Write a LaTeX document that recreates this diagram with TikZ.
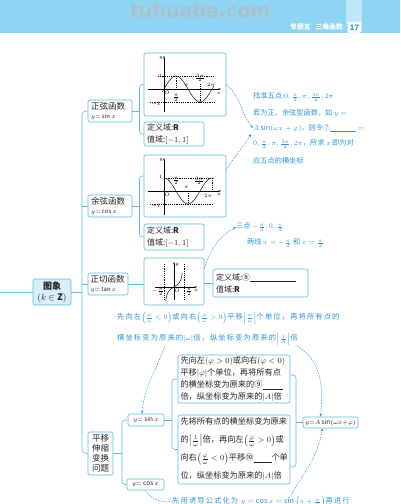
\documentclass[tikz,border=0pt]{standalone}
\usepackage{fontspec}
\setmainfont{Noto Sans CJK SC}
\newfontfamily\wmfont{DejaVu Sans}
\newfontfamily\annfont[LetterSpace=15]{Noto Sans CJK SC}
\usetikzlibrary{arrows.meta}
\definecolor{banner}{RGB}{143,212,243}
\definecolor{colbl}{RGB}{190,232,250}
\definecolor{linec}{RGB}{95,188,218}
\definecolor{rootc}{RGB}{214,239,250}
\definecolor{annc}{RGB}{45,150,215}
\definecolor{txt}{RGB}{35,35,35}
\definecolor{wmc}{RGB}{172,192,204}
\tikzset{
  conn/.style={draw=linec, line width=0.6pt},
  bx/.style={draw=linec, line width=0.6pt, rounded corners=2pt, fill=white, inner sep=0pt, text=txt},
  ann/.style={draw=annc, line width=0.5pt, dash pattern=on 1.5pt off 1.2pt},
  anntip/.style={-{Stealth[length=3.2pt,width=2.4pt]}},
  gl/.style={line width=0.45pt, draw=black},
  gd/.style={line width=0.4pt, draw=black, dash pattern=on 1.2pt off 1pt},
  axtip/.style={-{Stealth[length=2.5pt,width=1.8pt]}},
  lab/.style={inner sep=0pt, text=black, font=\fontsize{5.5}{6}\selectfont},
  atext/.style={anchor=west, inner sep=0pt, text=annc, font=\fontsize{7.2}{8}\selectfont},
  mtext/.style={anchor=west, inner sep=0pt, text=annc, font=\fontsize{7.3}{8}\selectfont\annfont},
}
\begin{document}
\begin{tikzpicture}[x=1pt,y=-1pt]
\clip (0,0) rectangle (400,504);
\fill[white] (0,0) rectangle (400,504);
% banner
\fill[banner] (0,0) rectangle (400,33);
\fill[colbl] (346,0) rectangle (362,24);
\node[text=wmc, font=\fontsize{19}{20}\selectfont\wmfont\bfseries, inner sep=0pt] (wm) at (200,10) {tuhuaba.com};
\node[text=white, font=\fontsize{6.8}{7}\selectfont\bfseries, inner sep=0pt, anchor=east] (chap) at (343,27) {专题五\hspace{5pt}三角函数};
\node[fill=white, draw=colbl, rounded corners=2pt, minimum width=14pt, minimum height=11pt, inner sep=0pt, text=annc, font=\fontsize{7.5}{8}\selectfont\bfseries] (pg) at (354.5,27.5) {17};

% main nodes
\node[bx, fill=rootc, minimum width=38pt, minimum height=26pt, align=center, font=\fontsize{9}{11}\selectfont\bfseries] (root) at (52,292) {图象\\$(k\in\mathbf{Z})$};
\node[bx, minimum width=44pt, minimum height=22pt, text width=38pt, align=left, font=\fontsize{8.5}{10}\selectfont] (sinfn) at (110,111) {正弦函数\\[-1pt]{\fontsize{6}{6}\selectfont$y{=}\sin x$}};
\node[bx, minimum width=44pt, minimum height=22pt, text width=38pt, align=left, font=\fontsize{8.5}{10}\selectfont] (cosfn) at (110,206) {余弦函数\\[-1pt]{\fontsize{6}{6}\selectfont$y{=}\cos x$}};
\node[bx, minimum width=40pt, minimum height=22pt, text width=35pt, align=left, font=\fontsize{8.5}{10}\selectfont] (tanfn) at (108,284) {正切函数\\[-1pt]{\fontsize{6}{6}\selectfont$y{=}\tan x$}};
\node[bx, minimum width=25pt, minimum height=43pt, align=center, font=\fontsize{8.5}{10}\selectfont] (pingyi) at (100.5,453.5) {平移\\伸缩\\变换\\问题};

\node[bx, minimum width=82pt, minimum height=63pt] (sgraph) at (185,84.5) {};
\node[bx, minimum width=60pt, minimum height=24pt, text width=54pt, align=left, font=\fontsize{8}{11.5}\selectfont] (sdom) at (174,134) {定义域:$\mathbf{R}$\\值域:$[-1,1]$};
\node[bx, minimum width=82pt, minimum height=62pt] (cgraph) at (185,186) {};
\node[bx, minimum width=60pt, minimum height=26pt, text width=54pt, align=left, font=\fontsize{8}{11.5}\selectfont] (cdom) at (174,237) {定义域:$\mathbf{R}$\\值域:$[-1,1]$};
\node[bx, minimum width=60pt, minimum height=47pt] (tgraph) at (174,281.5) {};
\node[bx, minimum width=95pt, minimum height=28pt, text width=89pt, align=left, font=\fontsize{8}{12}\selectfont] (tdom) at (260.5,283) {定义域:⑧\underline{\hspace{46pt}}\\值域:$\mathbf{R}$};

\node[bx, minimum width=36pt, minimum height=12pt, font=\fontsize{6.5}{7}\selectfont] (ysin) at (146,420) {$y{=}\sin x$};
\node[bx, minimum width=37pt, minimum height=11pt, font=\fontsize{6.5}{7}\selectfont] (ycos) at (145.5,484.5) {$y{=}\cos x$};
\node[bx, minimum width=55pt, minimum height=11pt, font=\fontsize{6.5}{7}\selectfont] (yA) at (330.5,422.5) {$y{=}A\sin(\omega x{+}\varphi)$};

\node[bx, minimum width=112pt, minimum height=48pt, text width=107pt, align=left, font=\fontsize{8.2}{12}\selectfont] (boxA) at (234,379) {先向左$(\varphi>0)$或向右$(\varphi<0)$\\平移$|\varphi|$个单位，再将所有点\\的横坐标变为原来的⑨\underline{\hspace{20pt}}\\倍，纵坐标变为原来的$|A|$倍};
\node[bx, minimum width=112pt, minimum height=69pt, text width=107pt, align=left, font=\fontsize{8.2}{18}\selectfont] (boxB) at (234,449.5) {先将所有点的横坐标变为原来\\的$\left|\frac{1}{\omega}\right|$倍，再向左$\left(\frac{\varphi}{\omega}>0\right)$或\\向右$\left(\frac{\varphi}{\omega}<0\right)$平移⑩\underline{\hspace{18pt}}个单\\位，纵坐标变为原来的$|A|$倍};

% connectors
\coordinate (tkx) at (82,0);
\coordinate (lft) at (0,292);
\draw[conn, rounded corners=4pt] (sinfn.west) -- (tkx |- sinfn.west) -- (tkx |- pingyi.west) -- (pingyi.west);
\draw[conn] (cosfn.west) -- (tkx |- cosfn.west);
\draw[conn] (tanfn.west) -- (tkx |- tanfn.west);
\draw[conn] (lft) -- (root.west);
\draw[conn] (root.east) -- (tkx |- root.east);

\coordinate (s1x) at (139.5,0);
\draw[conn, rounded corners=3pt] (sgraph.west) -- (s1x |- sgraph.west) -- (s1x |- sdom.west) -- (sdom.west);
\draw[conn] (sinfn.east) -- (s1x |- sinfn.east);
\coordinate (cgw) at ([yshift=10pt]cgraph.west);
\draw[conn, rounded corners=3pt] (cgw) -- (s1x |- cgw) -- (s1x |- cdom.west) -- (cdom.west);
\draw[conn] (cosfn.east) -- (s1x |- cosfn.east);
\draw[conn] (tanfn.east) -- (tgraph.west |- tanfn.east);
\draw[conn] (tgraph.east |- tdom.west) -- (tdom.west);

\coordinate (p1x) at (122,0);
\draw[conn] (pingyi.east) -- (p1x |- pingyi.east);
\draw[conn, rounded corners=3pt] (ysin.west) -- (p1x |- ysin.west) -- (p1x |- ycos.west) -- (ycos.west);
\coordinate (b1x) at (172,0);
\draw[conn] (ysin.east) -- (b1x |- ysin.east);
\draw[conn, rounded corners=3pt] (boxA.west) -- (b1x |- boxA.west) -- (b1x |- boxB.west) -- (boxB.west);
\coordinate (b2x) at (296,0);
\coordinate (bAe) at ([yshift=4pt]boxA.east);
\coordinate (bBe) at ([yshift=-17.5pt]boxB.east);
\draw[conn, rounded corners=3pt] (bAe) -- (b2x |- bAe) -- (b2x |- bBe) -- (bBe);
\draw[conn] (b2x |- yA.west) -- (yA.west);

% sine graph
\draw[gl, axtip] (148,89) -- (221,89);
\draw[gl, axtip] (164,112) -- (164,56);
\draw[gd] (158,76) -- (214,76);
\draw[gd] (150,102) -- (214,102);
\draw[gd] (176,76) -- (176,89);
\draw[gd] (200,84) -- (200,102);
\draw[gl] plot[domain=-2:50, samples=60, smooth] ({164+\x},{89-13*sin(7.5*\x)});
\node[lab] (sy) at (161,58) {$y$};
\node[lab] (s1) at (160.5,76) {$1$};
\node[lab] (sm1) at (156,104) {$-1$};
\node[lab] (sO) at (167,93) {$O$};
\node[lab] (spi2) at (176,98) {$\frac{\pi}{2}$};
\node[lab] (spi) at (186.5,85.5) {$\pi$};
\node[lab] (s3pi) at (200,78) {$\frac{3\pi}{2}$};
\node[lab] (s2pi) at (211,85) {$2\pi$};
\node[lab] (sx) at (219,93) {$x$};

% cosine graph
\draw[gl, axtip] (148,191) -- (221,191);
\draw[gl, axtip] (164,215) -- (164,158);
\draw[gd] (164,178) -- (213,178);
\draw[gd] (150,204) -- (213,204);
\draw[gd] (188,191) -- (188,204);
\draw[gd] (212,178) -- (212,191);
\draw[gl] plot[domain=0:50, samples=60, smooth] ({164+\x},{191-13*cos(7.5*\x)});
\node[lab] (cy) at (161,160) {$y$};
\node[lab] (c1) at (160.5,177) {$1$};
\node[lab] (cm1) at (156,206) {$-1$};
\node[lab] (cO) at (167,194.5) {$O$};
\node[lab] (cpi2) at (176,181) {$\frac{\pi}{2}$};
\node[lab] (cpi) at (186.5,187) {$\pi$};
\node[lab] (c3pi) at (199,181) {$\frac{3\pi}{2}$};
\node[lab] (c2pi) at (208,196) {$2\pi$};
\node[lab] (cx) at (219,194.5) {$x$};

% tangent graph
\draw[gl, axtip] (155,287) -- (197,287);
\draw[gl, axtip] (174,300) -- (174,262);
\draw[gd] (164,264) -- (164,301);
\draw[gd] (184,264) -- (184,301);
\draw[gl] plot[domain=-74:74, samples=40, smooth] ({174+\x/9},{287-4*tan(\x)});
\node[lab] (ty) at (177,265) {$y$};
\node[lab] (tO) at (177,291) {$O$};
\node[lab] (tm) at (158,292) {$-\frac{\pi}{2}$};
\node[lab] (tp) at (189,292) {$\frac{\pi}{2}$};
\node[lab] (tx) at (196,290.5) {$x$};

% annotations
\node[atext] (a1) at (253,97) {找准五点:$0,\frac{\pi}{2},\pi,\frac{3\pi}{2},2\pi$};
\node[atext] (a2) at (253,113) {若为正、余弦型函数，如 $y=$};
\node[atext] (a3) at (253,128) {$A\sin(\omega x+\varphi)$，则令⑦\underline{\hspace{26pt}}\ $=$};
\node[atext] (a4) at (253,144) {$0,\frac{\pi}{2},\pi,\frac{3\pi}{2},2\pi$，所求 $x$ 即为对};
\node[atext] (a5) at (253,161) {应五点的横坐标};
\node[atext] (t1) at (236,227) {三点 $-\frac{\pi}{4},0,\frac{\pi}{4}$};
\node[atext] (t2) at (247,243) {两线 $x=-\frac{\pi}{2}$ 和 $x=\frac{\pi}{2}$};
\node[mtext] (m1) at (117,318) {先向左$\left(\frac{\varphi}{\omega}<0\right)$或向右$\left(\frac{\varphi}{\omega}>0\right)$平移$\left|\frac{\varphi}{\omega}\right|$个单位，再将所有点的};
\node[mtext] (m2) at (117,339) {横坐标变为原来的$|\omega|$倍，纵坐标变为原来的$\left|\frac{1}{A}\right|$倍};
\node[mtext] (b1) at (172,502) {先用诱导公式化为 $y=\cos x=\sin\left(x+\frac{\pi}{2}\right)$再进行};

\draw[ann, anntip] (sgraph.east) to[out=-40, in=130] (a3.west);
\coordinate (cge) at ([yshift=16pt]cgraph.east);
\coordinate (a3l) at ([yshift=-6pt,xshift=-2pt]a3.west);
\draw[ann, anntip] (cge) to[out=60, in=-120] (a3l);
\coordinate (tge) at ([yshift=13.5pt]tgraph.east);
\draw[ann, anntip] (tge) to[out=70, in=-150] (t1.west);
\coordinate (m2a) at (165,346);
\coordinate (ysn) at ([xshift=-4pt]ysin.north);
\draw[ann, anntip] (m2a) to[out=-110, in=85] (ysn);
\coordinate (m2b) at (297,346);
\coordinate (yAn) at ([xshift=-10pt]yA.north);
\draw[ann, anntip] (m2b) to[out=-30, in=85] (yAn);
\draw[ann] (ycos.south) to[out=-60, in=180] (b1.west);
\coordinate (b1a) at (288,500);
\coordinate (yAs) at ([xshift=-8pt]yA.south);
\draw[ann, anntip] (b1a) to[out=60, in=-100] (yAs);
\end{tikzpicture}
\end{document}
